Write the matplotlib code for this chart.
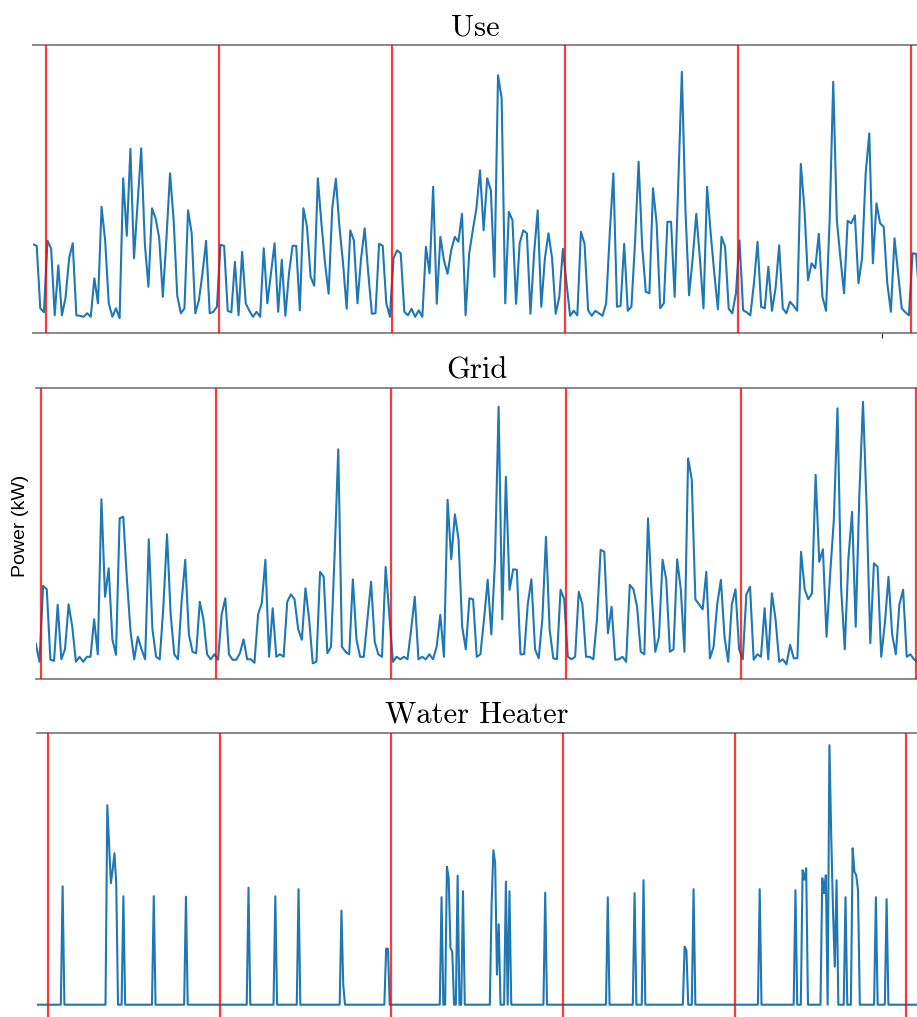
import numpy as np
import matplotlib
matplotlib.use("Agg")
import matplotlib.pyplot as plt

# ---------------------------------------------------------------------------
# Household power, five days (hours counted from the first midnight)
# ---------------------------------------------------------------------------
panel_titles = ["Use", "Grid", "Water Heater"]
day_boundaries_h = [0, 24, 48, 72, 96, 120]

# Whole-house consumption, 30-minute samples starting 22:15 the evening before
use_start_h = -1.75
use_step_h = 0.5
use_kw = [
    1.78, 1.75, 0.50, 0.42, 1.85, 1.70, 0.36, 1.36, 0.36, 0.71,
    1.50, 1.80, 0.36, 0.35, 0.33, 0.40, 0.33, 1.10, 0.60, 2.53,
    1.85, 0.60, 0.33, 0.50, 0.30, 3.10, 1.95, 3.69, 1.50, 2.60,
    3.70, 1.80, 0.93, 2.50, 2.30, 1.90, 0.73, 1.90, 3.20, 2.26,
    0.75, 0.40, 0.50, 2.46, 2.00, 0.40, 0.66, 1.20, 1.85, 0.40,
    0.43, 0.53, 1.77, 1.75, 0.45, 0.42, 1.43, 0.36, 1.63, 0.60,
    0.45, 0.33, 0.43, 0.33, 1.70, 0.60, 1.20, 1.80, 0.43, 1.47,
    0.35, 1.20, 1.75, 1.75, 0.46, 2.50, 2.13, 1.13, 0.95, 3.10,
    2.20, 1.40, 0.79, 2.50, 3.09, 2.13, 1.40, 0.49, 2.06, 1.86,
    0.60, 1.50, 2.10, 1.20, 0.39, 0.40, 1.79, 1.75, 0.60, 0.33,
    1.50, 1.66, 1.60, 0.43, 0.36, 0.49, 0.33, 0.46, 0.33, 1.73,
    1.20, 2.93, 0.59, 1.93, 1.46, 1.19, 1.66, 1.93, 1.83, 2.39,
    0.36, 1.60, 2.06, 2.50, 3.26, 2.06, 3.10, 2.86, 1.13, 5.16,
    4.70, 0.60, 2.43, 2.26, 0.59, 1.80, 2.06, 2.00, 0.39, 1.60,
    2.46, 0.53, 1.50, 2.00, 1.50, 0.39, 0.73, 1.69, 1.00, 0.35,
    0.45, 0.36, 2.03, 1.79, 0.46, 0.35, 0.45, 0.40, 0.35, 0.60,
    2.00, 3.20, 0.53, 0.55, 1.79, 0.45, 0.53, 1.80, 3.43, 1.73,
    0.83, 0.80, 2.90, 2.20, 0.50, 0.60, 2.23, 2.23, 0.73, 3.00,
    5.23, 2.46, 0.76, 1.50, 2.39, 1.50, 0.50, 2.93, 2.00, 1.20,
    0.48, 1.93, 1.73, 0.49, 0.40, 0.80, 1.86, 0.46, 0.42, 0.36,
    1.00, 1.83, 0.53, 0.50, 1.33, 0.45, 0.90, 1.76, 0.50, 0.40,
    0.63, 0.55, 0.45, 3.39, 2.50, 1.06, 1.40, 1.30, 1.99, 0.73,
    0.45, 2.26, 5.03, 2.26, 1.50, 0.80, 2.25, 2.20, 2.36, 1.00,
    1.50, 3.20, 4.00, 1.40, 2.60, 2.20, 2.13, 1.00, 0.43, 1.90,
    1.20, 0.50, 0.42, 0.36, 1.60, 1.59, 0.60,
]

# Power drawn from the grid, 30-minute samples starting 23:15 the evening before
grid_start_h = -0.75
grid_step_h = 0.5
grid_kw = [
    0.71, 0.35, 1.87, 1.80, 0.39, 0.37, 1.49, 0.40, 0.60, 1.50,
    1.05, 0.35, 0.45, 0.35, 0.45, 0.45, 1.20, 0.50, 3.60, 1.65,
    2.22, 0.80, 0.49, 3.22, 3.25, 1.99, 0.95, 0.40, 0.85, 0.60,
    0.40, 2.80, 1.00, 0.45, 0.40, 1.45, 2.90, 1.30, 0.50, 0.40,
    1.55, 2.39, 0.90, 0.55, 0.52, 1.55, 1.20, 0.50, 0.40, 0.50,
    0.39, 1.30, 1.62, 0.50, 0.39, 0.39, 0.52, 0.80, 0.40, 0.40,
    0.33, 1.30, 1.52, 2.39, 0.45, 1.42, 0.45, 0.50, 0.45, 1.55,
    1.70, 1.60, 1.00, 0.79, 1.82, 1.20, 0.32, 0.35, 2.15, 2.05,
    0.52, 0.65, 2.50, 4.60, 0.65, 0.55, 0.50, 2.00, 0.79, 0.45,
    0.45, 1.20, 1.95, 0.75, 0.50, 0.45, 2.25, 1.30, 0.35, 0.45,
    0.40, 0.45, 0.40, 1.00, 1.65, 0.40, 0.45, 0.40, 0.50, 0.40,
    0.65, 1.29, 0.45, 3.59, 2.40, 3.30, 2.80, 1.05, 0.60, 1.62,
    1.60, 0.45, 0.50, 1.20, 1.99, 0.90, 2.35, 5.45, 1.20, 4.05,
    1.79, 2.20, 2.19, 0.50, 0.50, 1.50, 2.00, 0.60, 0.42, 1.20,
    2.85, 1.00, 0.42, 0.40, 1.79, 1.60, 0.45, 0.40, 0.45, 1.75,
    1.50, 0.45, 0.45, 0.40, 1.20, 2.59, 2.55, 0.92, 1.45, 0.39,
    0.40, 0.45, 0.35, 1.89, 1.80, 1.45, 0.55, 0.50, 3.22, 1.72,
    0.55, 0.85, 2.39, 2.00, 0.55, 0.60, 2.40, 1.80, 0.55, 4.42,
    4.00, 1.60, 1.50, 1.40, 2.15, 0.42, 0.65, 1.50, 1.99, 0.85,
    0.35, 1.50, 1.80, 0.60, 0.40, 1.70, 1.85, 0.39, 0.50, 0.45,
    1.42, 0.40, 1.72, 1.20, 0.35, 0.40, 0.30, 0.69, 0.42, 0.42,
    2.55, 1.80, 1.60, 1.72, 4.09, 2.35, 2.60, 0.85, 2.12, 3.19,
    5.42, 1.82, 0.60, 2.42, 3.35, 1.05, 3.69, 5.55, 3.45, 0.72,
    2.32, 2.25, 0.45, 1.12, 2.05, 0.90, 0.50, 1.50, 1.79, 0.45,
    0.50, 0.40, 0.35,
]

# Water heater, 15-minute samples starting 22:30 the evening before;
# the heater is off (0 kW) except at the listed sample indices
wh_start_h = -1.5
wh_step_h = 0.25
wh_n_samples = 493
wh_on_index = [
    14, 39, 40, 41, 42, 43, 44, 48, 65, 83,
    118, 133, 146, 170, 171, 195, 196, 226, 229, 230,
    231, 232, 235, 238, 254, 255, 256, 257, 258, 262,
    264, 284, 319, 334, 339, 362, 363, 367, 404, 424,
    428, 429, 430, 439, 440, 441, 443, 444, 445, 446,
    447, 452, 456, 457, 458, 459, 469, 475,
]
wh_on_kw = [
    2.37, 3.99, 3.20, 2.43, 2.70, 3.03, 2.43, 2.17, 2.17, 2.16,
    2.34, 2.17, 2.31, 1.88, 0.40, 1.12, 1.12, 2.15, 2.76, 2.53,
    1.13, 1.06, 2.58, 2.27, 2.00, 3.09, 2.83, 0.60, 1.61, 2.46,
    2.27, 2.24, 2.15, 2.23, 2.49, 1.16, 1.09, 2.31, 2.31, 2.29,
    2.69, 2.50, 2.73, 2.53, 2.23, 2.59, 5.19, 3.40, 1.90, 0.76,
    2.49, 2.15, 3.13, 2.66, 2.59, 2.29, 2.15, 2.11,
]

# ---------------------------------------------------------------------------
# Series assembly
# ---------------------------------------------------------------------------
use_t = use_start_h + use_step_h * np.arange(len(use_kw))
grid_t = grid_start_h + grid_step_h * np.arange(len(grid_kw))
wh_t = wh_start_h + wh_step_h * np.arange(wh_n_samples)
wh_kw = np.zeros(wh_n_samples)
wh_kw[wh_on_index] = wh_on_kw

series = [
    (use_t, np.asarray(use_kw)),
    (grid_t, np.asarray(grid_kw)),
    (wh_t, wh_kw),
]

# ---------------------------------------------------------------------------
# Layout (pixel frames of each panel) and view limits
# ---------------------------------------------------------------------------
W, H = 917, 1017
frames_px = [  # left, top, right, bottom
    (33.3, 45.0, 917.0, 333.3),
    (36.0, 388.3, 917.0, 679.3),
    (37.3, 732.7, 917.0, 1023.0),
]
xlims = [(-1.72, 120.87), (-0.727, 120.16), (-1.54, 121.5)]
ylims = [(0.0, 5.766), (0.0, 5.82), (-0.366, 5.44)]
xtick_sets = [[116.0], [], []]

LINE_BLUE = "#1f77b4"
SPINE_GREY = "#808080"

fig = plt.figure(figsize=(W / 100, H / 100), dpi=100)
fig.patch.set_facecolor("white")

for title, (t, y), frame, xl, yl, xt in zip(
        panel_titles, series, frames_px, xlims, ylims, xtick_sets):
    left, top, right, bottom = frame
    ax = fig.add_axes([left / W, 1 - bottom / H,
                       (right - left) / W, (bottom - top) / H])
    ax.plot(t, y, color=LINE_BLUE, lw=1.5, zorder=2)
    for d in day_boundaries_h:
        ax.axvline(d, color="red", alpha=0.78, lw=1.6, zorder=3)
    ax.set_xlim(*xl)
    ax.set_ylim(*yl)

    for side in ("left", "right"):
        ax.spines[side].set_visible(False)
    for side in ("top", "bottom"):
        ax.spines[side].set_color(SPINE_GREY)
        ax.spines[side].set_linewidth(1.3)

    ax.set_yticks([])
    ax.set_xticks(xt)
    ax.set_xticklabels([])
    ax.tick_params(axis="x", direction="out", length=3.5, width=0.9,
                   color="#333333")
    ax.set_title(title, fontfamily="cmr10", fontsize=22, pad=7)

fig.text(21 / W, 1 - 526 / H, "Power (kW)", rotation=90,
         ha="center", va="center", fontsize=14, family="Liberation Sans")

fig.savefig("out.png", dpi=100, facecolor="white")
